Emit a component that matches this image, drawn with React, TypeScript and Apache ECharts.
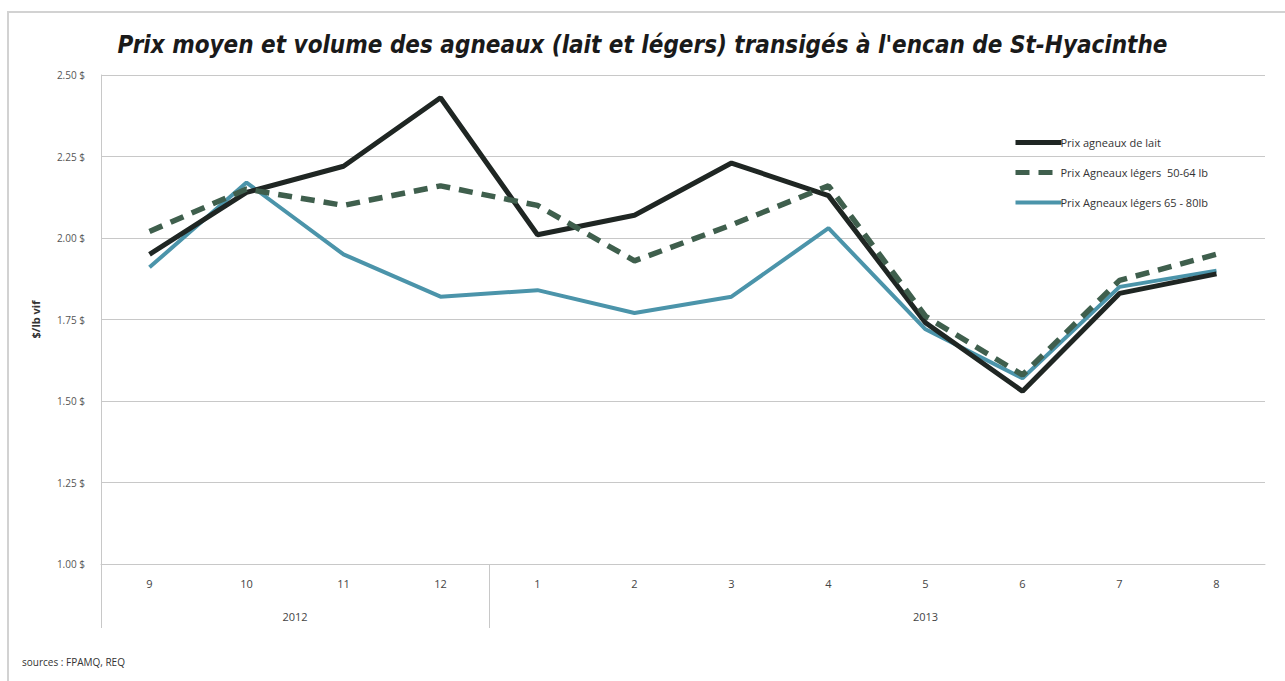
import React, { useEffect, useRef } from "react";
import * as echarts from "echarts";

const months = ["9", "10", "11", "12", "1", "2", "3", "4", "5", "6", "7", "8"];
const years = ["2012", "2013"];
const yearStartIndex = [0, 4];
const yearLabelIndex = [1.5, 8];

const laitValues = [1.95, 2.14, 2.22, 2.43, 2.01, 2.07, 2.23, 2.13, 1.74, 1.53, 1.83, 1.89];
const legers5064Values = [2.02, 2.15, 2.1, 2.16, 2.1, 1.93, 2.04, 2.16, 1.76, 1.58, 1.87, 1.95];
const legers6580Values = [1.91, 2.17, 1.95, 1.82, 1.84, 1.77, 1.82, 2.03, 1.72, 1.57, 1.85, 1.9];

const seriesNames = [
  "Prix agneaux de lait",
  "Prix Agneaux légers  50-64 lb",
  "Prix Agneaux légers 65 - 80lb",
];

const FONT = "'Open Sans', 'Noto Sans', sans-serif";

export default function App() {
  const ref = useRef<HTMLDivElement>(null);

  useEffect(() => {
    if (!ref.current) return;
    const chart = echarts.init(ref.current, undefined, { renderer: "svg" });
    const option: any = {
      animation: false,
      backgroundColor: "#ffffff",
      title: {
        text: "Prix moyen et volume des agneaux (lait et légers) transigés à l'encan de St-Hyacinthe",
        left: "center",
        top: 28,
        textStyle: {
          fontFamily: "'DejaVu Sans Condensed', 'DejaVu Sans', sans-serif",
          fontStyle: "italic",
          fontWeight: "bold",
          fontSize: 24,
          color: "#1a1a1a",
        },
      },
      graphic: [
        {
          type: "rect",
          shape: { x: 8, y: 12, width: 1290, height: 700 },
          style: { fill: "none", stroke: "#d2d2d2", lineWidth: 2 },
          silent: true,
        },
        {
          type: "text",
          left: 22,
          top: 657,
          style: {
            text: "sources : FPAMQ, REQ",
            fontFamily: FONT,
            fontSize: 10,
            fill: "#333",
          },
        },
      ],
      legend: {
        orient: "vertical",
        left: 1008,
        top: 132,
        itemWidth: 46,
        itemHeight: 10,
        itemGap: 19,
        itemStyle: { opacity: 0 },
        textStyle: { fontFamily: FONT, fontSize: 11, color: "#333", padding: [0, 0, 0, -6] },
        data: [
          { name: seriesNames[0], lineStyle: { width: 5 } },
          { name: seriesNames[1], lineStyle: { width: 5 } },
          { name: seriesNames[2], lineStyle: { width: 4 } },
        ],
      },
      grid: { left: 101, right: 20, top: 75, bottom: 117, containLabel: false },
      xAxis: [
        {
          type: "category",
          data: months,
          boundaryGap: true,
          axisLine: { show: true, lineStyle: { color: "#c8c8c8", width: 1 } },
          axisTick: { show: false },
          axisLabel: { fontFamily: FONT, fontSize: 11, color: "#444", margin: 14 },
        },
        {
          type: "value",
          position: "bottom",
          min: -0.5,
          max: 11.5,
          axisLine: { show: false },
          splitLine: { show: false },
          axisTick: {
            show: true,
            customValues: yearStartIndex.map((i) => i - 0.5),
            length: 64,
            lineStyle: { color: "#c8c8c8", width: 1 },
          },
          axisLabel: {
            customValues: yearLabelIndex,
            margin: 47,
            fontFamily: FONT,
            fontSize: 11,
            color: "#444",
            formatter: (v: number) => {
              let name = years[0];
              yearStartIndex.forEach((s, k) => {
                if (v >= s) name = years[k];
              });
              return name;
            },
          },
        },
      ],
      yAxis: {
        type: "value",
        min: 1,
        max: 2.5,
        interval: 0.25,
        name: "$/lb vif",
        nameLocation: "middle",
        nameGap: 60,
        nameTextStyle: { fontFamily: FONT, fontSize: 11, fontWeight: "bold", color: "#333" },
        axisLine: { show: true, onZero: false, lineStyle: { color: "#c8c8c8", width: 1 } },
        axisTick: { show: false },
        splitLine: { lineStyle: { color: "#c8c8c8", width: 1 } },
        axisLabel: {
          fontFamily: FONT,
          fontSize: 10,
          color: "#555",
          margin: 16,
          formatter: (v: number) => v.toFixed(2) + " $",
        },
      },
      series: [
        {
          name: seriesNames[0],
          type: "line",
          xAxisIndex: 0,
          data: laitValues,
          symbol: "none",
          z: 3,
          lineStyle: { color: "#1f2623", width: 5 },
          itemStyle: { color: "#1f2623" },
        },
        {
          name: seriesNames[1],
          type: "line",
          xAxisIndex: 0,
          data: legers5064Values,
          symbol: "none",
          z: 4,
          lineStyle: { color: "#3f5f4d", width: 5.5, type: [14, 9] },
          itemStyle: { color: "#3f5f4d" },
        },
        {
          name: seriesNames[2],
          type: "line",
          xAxisIndex: 0,
          data: legers6580Values,
          symbol: "none",
          z: 2,
          lineStyle: { color: "#4b94aa", width: 4 },
          itemStyle: { color: "#4b94aa" },
        },
      ],
    };
    chart.setOption(option);
    return () => chart.dispose();
  }, []);

  return (
    <div
      ref={ref}
      style={{ position: "fixed", left: 0, top: 0, width: 1285, height: 681 }}
    />
  );
}
